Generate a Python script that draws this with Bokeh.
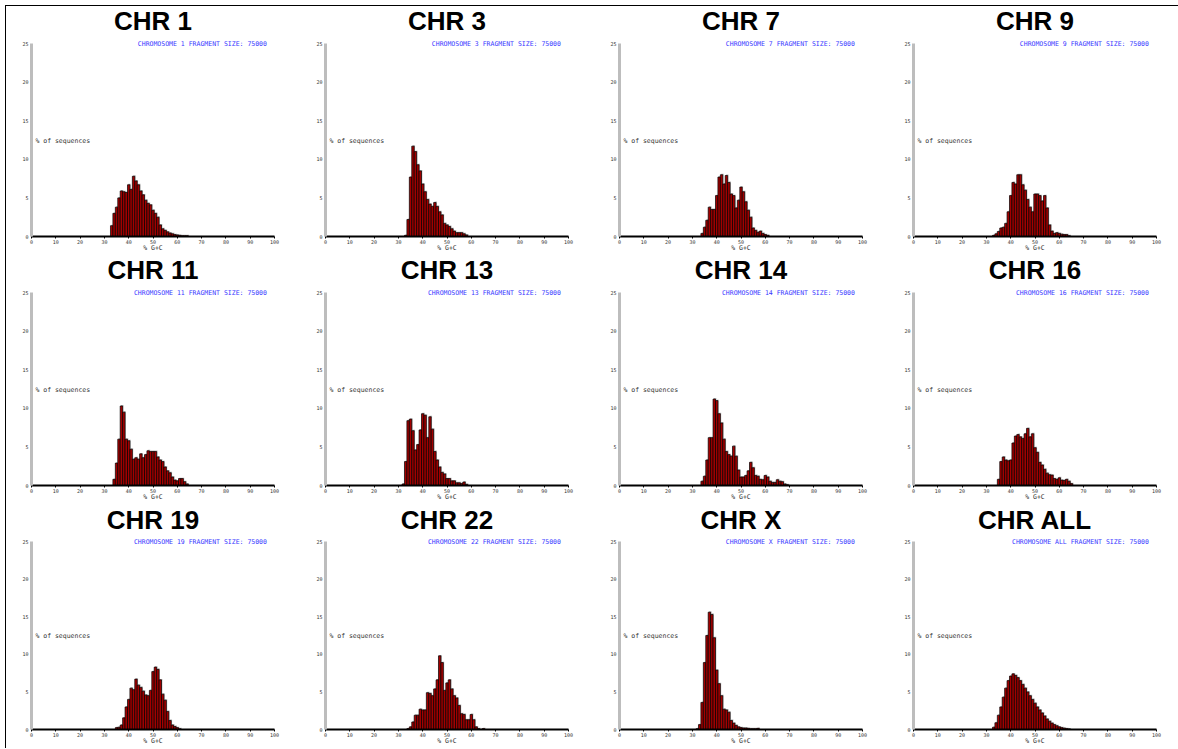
from bokeh.plotting import figure
from bokeh.layouts import column, row
from bokeh.models import Range1d, Label, FixedTicker
from bokeh.embed import file_html
from bokeh.resources import INLINE

# ---- data: % of sequences per 1% G+C bin (first bin centre + values) ----
chromosomes = ["1", "3", "7", "9", "11", "13", "14", "16", "19", "22", "X", "ALL"]

chr1_start = 33
chr1_pct = [1.4, 3.0, 3.8, 5.0, 5.9, 5.8, 5.7, 6.7, 6.1, 7.8, 7.2, 6.7, 5.9, 5.4, 4.7, 4.3,
            4.1, 3.4, 3.0, 2.5, 1.5, 1.0, 0.8, 0.6, 0.45, 0.35, 0.25, 0.2, 0.15, 0.1, 0.1, 0.1]
chr3_start = 33
chr3_pct = [0.15, 2.2, 7.7, 11.7, 11.0, 9.3, 8.5, 6.8, 5.8, 4.8, 4.2, 3.9, 4.4, 3.9, 3.2, 2.8,
            1.7, 1.5, 1.3, 1.0, 0.7, 0.5, 0.5, 0.5, 0.35, 0.2]
chr7_start = 34
chr7_pct = [0.4, 1.2, 2.1, 3.8, 3.5, 3.5, 5.3, 7.7, 8.0, 6.8, 7.9, 7.0, 5.5, 5.3, 3.7, 4.7,
            6.4, 5.8, 4.5, 3.4, 2.5, 1.1, 0.8, 0.55, 0.7, 0.4, 0.25, 0.15]
chr9_start = 33
chr9_pct = [0.15, 0.35, 0.65, 1.1, 1.2, 1.7, 3.2, 5.3, 7.0, 6.8, 8.0, 8.0, 6.7, 6.0, 4.8, 3.8,
            3.2, 5.5, 5.5, 5.3, 4.6, 5.3, 3.7, 1.5, 0.7, 0.4, 0.5, 0.4, 0.3, 0.25, 0.25, 0.1]
chr11_start = 34
chr11_pct = [0.8, 2.9, 6.0, 10.3, 9.5, 6.0, 5.8, 4.7, 3.4, 3.6, 3.4, 4.1, 3.6, 4.0, 4.5, 4.4,
             4.4, 4.4, 3.7, 3.3, 3.1, 2.4, 1.9, 1.65, 1.1, 0.7, 0.6, 0.9, 0.9, 0.5, 0.2]
chr13_start = 32
chr13_pct = [0.2, 3.1, 8.4, 8.6, 7.1, 4.6, 5.3, 7.2, 9.3, 9.1, 6.2, 8.9, 7.3, 4.4, 3.3, 2.4,
             1.7, 1.5, 0.9, 0.9, 0.6, 0.6, 0.35, 0.35, 0.25, 0.45, 0.15]
chr14_start = 34
chr14_pct = [0.55, 1.2, 3.3, 6.2, 6.2, 11.2, 11.0, 9.3, 8.1, 6.0, 4.4, 4.0, 3.8, 5.1, 3.8, 2.0,
             1.1, 1.1, 1.3, 1.9, 3.0, 2.3, 1.3, 1.2, 0.8, 0.75, 1.3, 1.1, 0.55, 0.4, 0.4, 0.75,
             0.55, 0.5, 0.2, 0.1]
chr16_start = 35
chr16_pct = [0.8, 3.1, 3.7, 3.3, 3.2, 3.3, 5.5, 6.4, 6.6, 6.3, 6.1, 6.7, 7.4, 6.3, 6.7, 4.9,
             4.3, 3.0, 2.65, 2.1, 1.6, 1.4, 1.35, 0.9, 0.8, 1.0, 0.7, 0.65, 0.8, 0.55, 0.25]
chr19_start = 35
chr19_pct = [0.25, 0.3, 0.6, 1.55, 3.0, 4.0, 5.5, 5.3, 6.7, 5.9, 5.6, 5.1, 4.6, 4.5, 5.2, 7.7,
             8.3, 8.0, 6.6, 4.7, 3.9, 2.4, 1.2, 0.6, 0.4, 0.25, 0.1]
chr22_start = 34
chr22_pct = [0.12, 0.35, 1.0, 1.9, 1.9, 2.7, 2.6, 2.6, 4.9, 4.8, 4.5, 5.4, 6.6, 9.8, 8.9, 5.2,
             6.2, 6.6, 5.4, 4.5, 4.2, 3.2, 2.1, 2.0, 1.3, 1.3, 2.0, 1.3, 0.35, 0.12, 0.0, 0.12]
chrX_start = 32
chrX_pct = [0.1, 0.65, 3.6, 8.9, 12.5, 15.6, 15.3, 12.2, 7.9, 6.1, 4.5, 2.7, 2.6, 2.3, 1.2, 0.85,
            0.55, 0.35, 0.25, 0.2, 0.2, 0.15, 0.1, 0.1, 0.1, 0.15]
chrALL_start = 33
chrALL_pct = [0.3, 0.9, 1.9, 3.0, 4.3, 5.5, 6.5, 7.1, 7.4, 7.2, 6.9, 6.5, 6.0, 5.5, 5.0, 4.5,
              4.0, 3.5, 3.0, 2.6, 2.2, 1.8, 1.4, 1.1, 0.85, 0.65, 0.5, 0.35, 0.25, 0.18, 0.12, 0.08]

fragment_size = 75000
x_ticks = [0, 10, 20, 30, 40, 50, 60, 70, 80, 90, 100]
y_ticks = [0, 5, 10, 15, 20, 25]

series = {
    "1": (chr1_start, chr1_pct), "3": (chr3_start, chr3_pct), "7": (chr7_start, chr7_pct),
    "9": (chr9_start, chr9_pct), "11": (chr11_start, chr11_pct), "13": (chr13_start, chr13_pct),
    "14": (chr14_start, chr14_pct), "16": (chr16_start, chr16_pct), "19": (chr19_start, chr19_pct),
    "22": (chr22_start, chr22_pct), "X": (chrX_start, chrX_pct), "ALL": (chrALL_start, chrALL_pct),
}

MONO = "DejaVu Sans Mono"
FRAME_W = 243
BOTTOM = 19
COL_W = [288, 294, 294, 296]
COL_LEFT = [25, 31, 31, 31]
ROW_H = [249, 249, 244]
ROW_AXIS_PX = [193, 193, 188]     # pixel height of the 0..25 axis per row
ROW_TITLE_GAP = [23, 23, 22]      # px from the title centre down to the 25 line


def make_panel(name, width, left, height, axis_px, title_gap):
    start, pct = series[name]
    gc = [start + i for i in range(len(pct))]
    frame_h = height - BOTTOM
    unit = axis_px / 25.0
    y_top = frame_h / unit
    p = figure(width=width, height=height, x_range=Range1d(0, 100), y_range=Range1d(0, y_top),
               output_backend="svg", toolbar_location=None,
               min_border_left=left, min_border_right=width - left - FRAME_W,
               min_border_top=0, min_border_bottom=BOTTOM)
    p.outline_line_color = None
    p.xgrid.visible = False
    p.ygrid.visible = False
    p.background_fill_color = "white"

    # shadow then bars
    p.quad(left=[g - 0.5 + 0.35 for g in gc], right=[g + 0.5 + 0.35 for g in gc],
           bottom=0, top=[v + 0.12 for v in pct], fill_color="#b4b4b4", line_color=None)
    p.quad(left=[g - 0.5 for g in gc], right=[g + 0.5 for g in gc], bottom=0, top=pct,
           fill_color="#a30000", line_color="black", line_width=0.7)

    xa = p.xaxis[0]
    xa.ticker = FixedTicker(ticks=x_ticks)
    xa.axis_line_color = "black"
    xa.axis_line_width = 2
    xa.major_tick_in = 0
    xa.major_tick_out = 2
    xa.minor_tick_out = 0
    xa.minor_tick_in = 0
    xa.major_label_text_font = MONO
    xa.major_label_text_font_size = "5px"
    xa.major_label_text_color = "#333333"
    xa.major_label_standoff = 1
    xa.axis_label = "% G+C"
    xa.axis_label_text_font = MONO
    xa.axis_label_text_font_size = "6.5px"
    xa.axis_label_text_font_style = "normal"
    xa.axis_label_text_color = "#333333"
    xa.axis_label_standoff = -3

    ya = p.yaxis[0]
    ya.ticker = FixedTicker(ticks=y_ticks)
    ya.bounds = (0, 25)
    ya.axis_line_color = "#bdbdbd"
    ya.axis_line_width = 3
    ya.major_tick_in = 0
    ya.major_tick_out = 0
    ya.minor_tick_out = 0
    ya.minor_tick_in = 0
    ya.major_label_text_font = MONO
    ya.major_label_text_font_size = "5px"
    ya.major_label_text_color = "#333333"
    ya.major_label_standoff = 3

    # panel title
    p.add_layout(Label(x=50, y=25 + title_gap / unit, text="CHR " + name,
                       text_align="center", text_baseline="middle", text_font="Liberation Sans",
                       text_font_size="26px", text_font_style="bold", text_color="black"))
    p.add_layout(Label(x=98.5, y=24.9, text="CHROMOSOME %s  FRAGMENT SIZE: %d" % (name, fragment_size),
                       text_align="right", text_baseline="middle", text_font=MONO,
                       text_font_size="6.5px", text_color="#3838ff"))
    p.add_layout(Label(x=1.6, y=12.4, text="% of sequences", text_align="left",
                       text_baseline="middle", text_font=MONO, text_font_size="6.5px",
                       text_color="#333333"))
    return p


rows = []
for r in range(3):
    figs = [make_panel(chromosomes[r * 4 + c], COL_W[c], COL_LEFT[c], ROW_H[r],
                       ROW_AXIS_PX[r], ROW_TITLE_GAP[r]) for c in range(4)]
    rows.append(row(*figs))
layout = column(*rows, styles={"margin-top": "5px", "margin-left": "5px",
                                "border-top": "1px solid black", "border-left": "1px solid black"})

open("out.html", "w").write(file_html(layout, INLINE))
